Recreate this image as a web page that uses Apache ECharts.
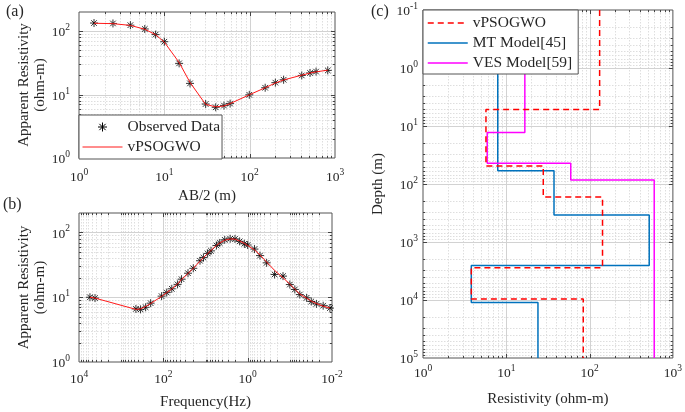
<!DOCTYPE html>
<html><head><meta charset="utf-8">
<script src="https://cdn.jsdelivr.net/npm/echarts@6/dist/echarts.min.js"></script>
<style>html,body{margin:0;padding:0;background:#fff}#c{width:685px;height:412px}</style>
</head><body><div id="c"></div>
<script>
// ---------- Panel (a): VES sounding ----------
const abHalf = [1.5,2.5,4,5.9,7.9,10,14.9,20,30.5,40,50,59,99,152,200,250,408,510,600,823];
const vesObs = [134,132,124,108,88,68,31,15,7.1,6.3,6.7,7.2,9.9,12.8,15.4,17.1,20,21.9,23,24];
const vesFit = [133,131,123,107,88,67,32,15.5,7.0,6.4,6.6,7.2,9.9,12.8,15.2,17,20.2,21.8,22.8,24.2];

// ---------- Panel (b): MT sounding ----------
const freq = [5500,4170,447,347,263,200,110,83,63,46,37,26,19.5,13.5,11.2,8.9,7.4,5.5,4.6,3.5,2.6,2.0,1.55,1.2,1.0,0.69,0.51,0.355,0.23,0.145,0.1,0.076,0.058,0.040,0.031,0.0234,0.0162,0.0112];
const mtObs = [10.0,9.7,6.6,6.5,7.0,8.1,10.4,11.8,13.5,15.8,19,23.5,28,36.6,41,47.5,52,63,69,77,80,79.5,73,67,64,55.5,44,34,22.5,21.2,15.7,13.2,11.0,9.8,8.6,7.9,7.4,6.8];
const mtFit = [10.0,9.7,6.5,6.6,7.2,8.0,10.3,11.8,13.4,16.0,18.8,23.2,28,36,41,47,53,63,69,76,79.5,79,74,68,63,54,45,35,26,20,16,13.3,11.2,9.7,8.7,8.0,7.3,6.8];

// ---------- Panel (c): layered models ----------
const psoRes = [132,5.7,27.8,143,3.8,84];
const psoDepth = [5.2,48.8,168,2770,9600];
const mtModelRes = [7.9,37.4,520,3.8,24];
const mtModelDepth = [59,344,2530,11000];
const vesModelRes = [16.7,5.9,59.4,597];
const vesModelDepth = [12.9,44,85];

const SERIF = "'Liberation Serif','DejaVu Serif',serif";
const TXT = '#262626';
const STAR = 'path://M0,-10L0,10M-10,0L10,0M-7,-7L7,7M-7,7L7,-7';

function steps(res, depth, top, bottom){
  const pts=[[res[0],top]];
  depth.forEach((d,i)=>{pts.push([res[i],d]);pts.push([res[i+1],d]);});
  pts.push([res[res.length-1],bottom]);
  return pts;
}
function minorVals(lo,hi){const o=[];for(let k=lo;k<hi;k++)for(let m=2;m<=9;m++)o.push(m*Math.pow(10,k));return o;}

function powLabel(evenOnly){
  return function(v){
    const e=Math.log10(v), r=Math.round(e);
    if(Math.abs(e-r)>1e-6) return '';
    if(evenOnly && r%2!==0) return '';
    return '{b|10}{s|'+r+'}';
  };
}
const rich = {
  b:{fontSize:13.5,fontFamily:SERIF,color:TXT,verticalAlign:'bottom'},
  s:{fontSize:9.5,fontFamily:SERIF,color:TXT,verticalAlign:'bottom',padding:[0,0,7,0]}
};
const nameStyle = {fontFamily:SERIF,fontSize:15,color:TXT,lineHeight:16};

function axis(gi, opts){
  return Object.assign({
    type:'log', logBase:10, gridIndex:gi,
    axisLine:{show:false}, axisTick:{show:false}, splitLine:{show:false},
    nameLocation:'middle', nameTextStyle:nameStyle
  }, opts);
}

// custom series drawing grid lines + inward ticks on all four sides
function gridLines(gi, dim, values, major, ref){
  return {
    type:'custom', xAxisIndex:gi, yAxisIndex:gi, silent:true, z:1,
    data: values.map(v=> dim==='x'?[v,ref]:[ref,v]),
    renderItem:function(params, api){
      const cs=params.coordSys;
      const p=api.coord([api.value(0),api.value(1)]);
      const tl = major?4:2.2;
      const gs = {stroke: major?'#d2d2d2':'#dedede', lineWidth:1, lineDash: major?null:[1.5,1.5]};
      const ts = {stroke:'#444', lineWidth:1};
      let ch;
      if(dim==='x'){
        const x=Math.round(p[0])+0.5;
        ch=[
          {type:'line',shape:{x1:x,y1:cs.y,x2:x,y2:cs.y+cs.height},style:gs},
          {type:'line',shape:{x1:x,y1:cs.y+cs.height,x2:x,y2:cs.y+cs.height-tl},style:ts},
          {type:'line',shape:{x1:x,y1:cs.y,x2:x,y2:cs.y+tl},style:ts}
        ];
      } else {
        const y=Math.round(p[1])+0.5;
        ch=[
          {type:'line',shape:{x1:cs.x,y1:y,x2:cs.x+cs.width,y2:y},style:gs},
          {type:'line',shape:{x1:cs.x,y1:y,x2:cs.x+tl,y2:y},style:ts},
          {type:'line',shape:{x1:cs.x+cs.width,y1:y,x2:cs.x+cs.width-tl,y2:y},style:ts}
        ];
      }
      return {type:'group',children:ch};
    }
  };
}

const gridStyle = {show:true,borderColor:'#555',borderWidth:1,backgroundColor:'#fff'};

const series = [
  // grids (a)
  gridLines(0,'x',[10,100],true,1), gridLines(0,'x',minorVals(0,3),false,1),
  gridLines(0,'y',[10,100],true,1), gridLines(0,'y',minorVals(0,2),false,1),
  // grids (b)
  gridLines(1,'x',[1,100],true,1), gridLines(1,'x',minorVals(-2,4).concat([0.1,10,1000]),false,1),
  gridLines(1,'y',[10,100],true,1), gridLines(1,'y',minorVals(0,2),false,1),
  // grids (c)
  gridLines(2,'x',[10,100],true,1), gridLines(2,'x',minorVals(0,3),false,1),
  gridLines(2,'y',[1,10,100,1000,10000],true,1), gridLines(2,'y',minorVals(-1,5),false,1),
  // data (a)
  {name:'Observed Data',type:'scatter',xAxisIndex:0,yAxisIndex:0,z:2,
   data:abHalf.map((x,i)=>[x,vesObs[i]]),symbol:STAR,symbolSize:8,
   itemStyle:{color:'rgba(0,0,0,0)',borderColor:'#000',borderWidth:1}},
  {name:'vPSOGWO',type:'line',xAxisIndex:0,yAxisIndex:0,z:3,showSymbol:false,symbol:'none',
   data:abHalf.map((x,i)=>[x,vesFit[i]]),lineStyle:{color:'#ff1a1a',width:1},itemStyle:{color:'#ff1a1a'}},
  // data (b)
  {name:'MT observed',type:'scatter',xAxisIndex:1,yAxisIndex:1,z:2,
   data:freq.map((f,i)=>[f,mtObs[i]]),symbol:STAR,symbolSize:8,
   itemStyle:{color:'rgba(0,0,0,0)',borderColor:'#000',borderWidth:1}},
  {name:'MT fit',type:'line',xAxisIndex:1,yAxisIndex:1,z:3,showSymbol:false,symbol:'none',
   data:freq.map((f,i)=>[f,mtFit[i]]),lineStyle:{color:'#ff1a1a',width:1}},
  // data (c)
  {name:'vPSOGWO ',type:'line',xAxisIndex:2,yAxisIndex:2,z:3,showSymbol:false,symbol:'none',
   data:steps(psoRes,psoDepth,0.1,1e5),lineStyle:{color:'#ff0000',width:1.5,type:[6,4]},itemStyle:{color:'#ff0000'}},
  {name:'MT Model[45]',type:'line',xAxisIndex:2,yAxisIndex:2,z:2,showSymbol:false,symbol:'none',
   data:steps(mtModelRes,mtModelDepth,0.1,1e5),lineStyle:{color:'#0072BD',width:1.5},itemStyle:{color:'#0072BD'}},
  {name:'VES Model[59]',type:'line',xAxisIndex:2,yAxisIndex:2,z:2,showSymbol:false,symbol:'none',
   data:steps(vesModelRes,vesModelDepth,0.1,1e5),lineStyle:{color:'#ff00ff',width:1.5},itemStyle:{color:'#ff00ff'}}
];

const legendText = {fontFamily:SERIF,fontSize:15.5,color:TXT,lineHeight:16};

const option = {
  animation:false,
  backgroundColor:'#fff',
  grid:[
    Object.assign({left:79,top:12,width:256,height:146},gridStyle),
    Object.assign({left:79,top:213,width:253,height:149},gridStyle),
    Object.assign({left:423,top:10,width:250,height:353},gridStyle)
  ],
  xAxis:[
    axis(0,{min:1,max:1000,name:'AB/2 (m)',nameGap:30,axisLabel:{formatter:powLabel(false),rich:rich,margin:9}}),
    axis(1,{min:0.01,max:10000,inverse:true,name:'Frequency(Hz)',nameGap:32,axisLabel:{formatter:powLabel(true),rich:rich,margin:7}}),
    axis(2,{min:1,max:1000,name:'Resistivity (ohm-m)',nameGap:33,axisLabel:{formatter:powLabel(false),rich:rich,margin:5}})
  ],
  yAxis:[
    axis(0,{min:1,max:200,name:'Apparent Resistivity\n(ohm-m)',nameGap:29,axisLabel:{formatter:powLabel(false),rich:rich,margin:9}}),
    axis(1,{min:1,max:200,name:'Apparent Resistivity\n(ohm-m)',nameGap:29,axisLabel:{formatter:powLabel(false),rich:rich,margin:9}}),
    axis(2,{min:0.1,max:1e5,inverse:true,name:'Depth (m)',nameGap:37,axisLabel:{formatter:powLabel(false),rich:rich,margin:5}})
  ],
  legend:[
    {left:79,top:115,orient:'vertical',backgroundColor:'#fff',borderColor:'#555',borderWidth:1,
     padding:[4,2,4,3],itemWidth:40,itemHeight:9,itemGap:4,textStyle:legendText,
     lineStyle:{width:1},itemStyle:{opacity:0},
     data:[{name:'Observed Data',icon:STAR,itemStyle:{color:'rgba(0,0,0,0)',borderColor:'#000',borderWidth:1,opacity:1}},
           {name:'vPSOGWO'}]},
    {left:423,top:10,orient:'vertical',backgroundColor:'#fff',borderColor:'#555',borderWidth:1,
     padding:[5,6,3,4],itemWidth:40,itemHeight:9,itemGap:4,textStyle:legendText,
     lineStyle:{width:1.5},itemStyle:{opacity:0},
     data:['vPSOGWO ','MT Model[45]','VES Model[59]']}
  ],
  graphic:[
    {type:'text',left:6,top:4,style:{text:'(a)',font:'16px '+SERIF,fill:TXT}},
    {type:'text',left:3,top:197,style:{text:'(b)',font:'16px '+SERIF,fill:TXT}},
    {type:'text',left:371,top:4,style:{text:'(c)',font:'16px '+SERIF,fill:TXT}}
  ],
  series:series
};
const chart = echarts.init(document.getElementById('c'),null,{renderer:'canvas'});
chart.setOption(option);
</script></body></html>
